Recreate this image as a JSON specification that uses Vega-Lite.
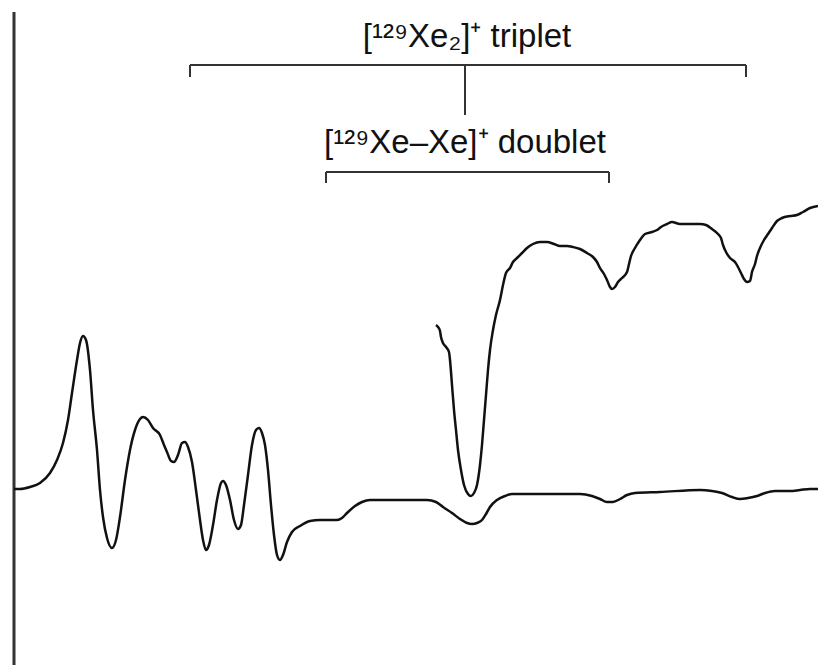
{
  "$schema": "https://vega.github.io/schema/vega-lite/v6.json",
  "width": 818,
  "height": 665,
  "padding": 0,
  "autosize": "none",
  "background": "white",
  "config": {"view": {"stroke": null}},
  "datasets": {
    "lower": [
      {"x":14,"s":176},{"x":20,"s":176},{"x":30,"s":178},{"x":40,"s":182},{"x":50,"s":192},{"x":57,"s":205},{"x":63,"s":222},{"x":68,"s":245},{"x":72,"s":272},{"x":77,"s":305},{"x":80,"s":322},{"x":83,"s":329},{"x":86,"s":325},{"x":90,"s":295},{"x":93,"s":255},{"x":97,"s":215},{"x":100,"s":175},{"x":103,"s":148},{"x":107,"s":127},{"x":112,"s":117},{"x":116,"s":125},{"x":120,"s":148},{"x":125,"s":185},{"x":130,"s":215},{"x":135,"s":235},{"x":140,"s":246},{"x":143,"s":248},{"x":148,"s":245},{"x":153,"s":237},{"x":160,"s":230},{"x":164,"s":220},{"x":167,"s":213},{"x":171,"s":204},{"x":174,"s":203},{"x":178,"s":210},{"x":182,"s":222},{"x":185,"s":223},{"x":188,"s":218},{"x":192,"s":203},{"x":196,"s":175},{"x":200,"s":145},{"x":203,"s":125},{"x":206,"s":115},{"x":209,"s":120},{"x":213,"s":140},{"x":217,"s":165},{"x":221,"s":182},{"x":223,"s":184},{"x":226,"s":180},{"x":230,"s":165},{"x":234,"s":145},{"x":238,"s":136},{"x":241,"s":140},{"x":244,"s":160},{"x":248,"s":190},{"x":252,"s":220},{"x":256,"s":235},{"x":259,"s":237},{"x":262,"s":232},{"x":265,"s":220},{"x":268,"s":195},{"x":271,"s":160},{"x":274,"s":130},{"x":277,"s":110},{"x":280,"s":105},{"x":283,"s":110},{"x":287,"s":123},{"x":292,"s":133},{"x":300,"s":139},{"x":310,"s":144},{"x":320,"s":145},{"x":337,"s":145},{"x":342,"s":147},{"x":347,"s":152},{"x":355,"s":159},{"x":362,"s":163},{"x":370,"s":165},{"x":400,"s":165},{"x":427,"s":165},{"x":436,"s":163},{"x":443,"s":158},{"x":452,"s":152},{"x":460,"s":146},{"x":467,"s":142},{"x":472,"s":141},{"x":477,"s":142},{"x":482,"s":145},{"x":486,"s":151},{"x":490,"s":158},{"x":497,"s":165},{"x":505,"s":169},{"x":512,"s":171},{"x":540,"s":171},{"x":580,"s":171},{"x":592,"s":169},{"x":600,"s":166},{"x":607,"s":163},{"x":613,"s":163},{"x":620,"s":166},{"x":627,"s":170},{"x":635,"s":172},{"x":660,"s":173},{"x":700,"s":175},{"x":712,"s":174},{"x":722,"s":172},{"x":732,"s":168},{"x":740,"s":166},{"x":748,"s":167},{"x":757,"s":169},{"x":765,"s":172},{"x":775,"s":174},{"x":790,"s":174},{"x":800,"s":175},{"x":810,"s":176},{"x":818,"s":176}
    ],
    "upper": [
      {"x":436,"s":340},{"x":438,"s":338},{"x":440,"s":334},{"x":441,"s":328},{"x":443,"s":322},{"x":446,"s":318},{"x":449,"s":313},{"x":450,"s":305},{"x":452,"s":280},{"x":454,"s":255},{"x":456,"s":235},{"x":458,"s":215},{"x":461,"s":195},{"x":464,"s":180},{"x":468,"s":171},{"x":471,"s":169},{"x":474,"s":172},{"x":477,"s":180},{"x":480,"s":200},{"x":482,"s":220},{"x":484,"s":245},{"x":486,"s":270},{"x":488,"s":295},{"x":490,"s":315},{"x":493,"s":335},{"x":496,"s":350},{"x":500,"s":365},{"x":503,"s":380},{"x":506,"s":392},{"x":510,"s":397},{"x":513,"s":403},{"x":517,"s":407},{"x":522,"s":412},{"x":527,"s":417},{"x":533,"s":421},{"x":540,"s":423},{"x":547,"s":423},{"x":554,"s":421},{"x":560,"s":419},{"x":567,"s":419},{"x":573,"s":418},{"x":580,"s":416},{"x":587,"s":412},{"x":593,"s":408},{"x":597,"s":403},{"x":600,"s":397},{"x":604,"s":391},{"x":607,"s":385},{"x":610,"s":378},{"x":612,"s":376},{"x":615,"s":378},{"x":618,"s":383},{"x":622,"s":387},{"x":627,"s":393},{"x":629,"s":401},{"x":631,"s":409},{"x":635,"s":417},{"x":640,"s":425},{"x":645,"s":431},{"x":652,"s":433},{"x":657,"s":435},{"x":661,"s":438},{"x":667,"s":441},{"x":672,"s":443},{"x":680,"s":441},{"x":690,"s":441},{"x":700,"s":441},{"x":706,"s":440},{"x":712,"s":436},{"x":718,"s":431},{"x":721,"s":427},{"x":723,"s":420},{"x":726,"s":413},{"x":730,"s":407},{"x":735,"s":403},{"x":738,"s":398},{"x":741,"s":392},{"x":744,"s":386},{"x":747,"s":383},{"x":750,"s":384},{"x":752,"s":393},{"x":755,"s":401},{"x":757,"s":409},{"x":760,"s":417},{"x":764,"s":425},{"x":768,"s":431},{"x":772,"s":437},{"x":777,"s":444},{"x":782,"s":447},{"x":790,"s":449},{"x":797,"s":450},{"x":803,"s":453},{"x":810,"s":457},{"x":818,"s":459}
    ],
    "segments": [
      {"x":190,"x2":746,"s":600,"s2":600},
      {"x":190,"x2":190,"s":600,"s2":588},
      {"x":746,"x2":746,"s":600,"s2":588},
      {"x":465,"x2":465,"s":600,"s2":550},
      {"x":326,"x2":609,"s":493,"s2":493},
      {"x":326,"x2":326,"s":493,"s2":482},
      {"x":609,"x2":609,"s":493,"s2":482}
    ],
    "axisline": [{"x":14,"s":653,"s2":0}],
    "labels": [
      {"x":467,"s":618,"label":"[¹²⁹Xe₂]⁺ triplet"},
      {"x":465,"s":512,"label":"[¹²⁹Xe–Xe]⁺ doublet"}
    ]
  },
  "layer": [
    {
      "data": {"name": "axisline"},
      "mark": {"type": "rule", "color": "#333333", "strokeWidth": 3},
      "encoding": {
        "x": {"field": "x", "type": "quantitative", "scale": {"domain": [0, 818], "nice": false, "zero": false}, "axis": null},
        "y": {"field": "s", "type": "quantitative", "scale": {"domain": [0, 665], "nice": false, "zero": false}, "axis": null},
        "y2": {"field": "s2"}
      }
    },
    {
      "data": {"name": "segments"},
      "mark": {"type": "rule", "color": "#333333", "strokeWidth": 2},
      "encoding": {
        "x": {"field": "x", "type": "quantitative", "scale": {"domain": [0, 818], "nice": false, "zero": false}, "axis": null},
        "x2": {"field": "x2"},
        "y": {"field": "s", "type": "quantitative", "scale": {"domain": [0, 665], "nice": false, "zero": false}, "axis": null},
        "y2": {"field": "s2"}
      }
    },
    {
      "data": {"name": "lower"},
      "mark": {"type": "line", "color": "#111111", "strokeWidth": 2.5, "interpolate": "monotone"},
      "encoding": {
        "x": {"field": "x", "type": "quantitative", "scale": {"domain": [0, 818], "nice": false, "zero": false}, "axis": null},
        "y": {"field": "s", "type": "quantitative", "scale": {"domain": [0, 665], "nice": false, "zero": false}, "axis": null}
      }
    },
    {
      "data": {"name": "upper"},
      "mark": {"type": "line", "color": "#111111", "strokeWidth": 2.5, "interpolate": "monotone"},
      "encoding": {
        "x": {"field": "x", "type": "quantitative", "scale": {"domain": [0, 818], "nice": false, "zero": false}, "axis": null},
        "y": {"field": "s", "type": "quantitative", "scale": {"domain": [0, 665], "nice": false, "zero": false}, "axis": null}
      }
    },
    {
      "data": {"name": "labels"},
      "mark": {"type": "text", "font": "Liberation Sans", "fontSize": 33, "color": "#111111", "align": "center", "baseline": "alphabetic"},
      "encoding": {
        "x": {"field": "x", "type": "quantitative", "scale": {"domain": [0, 818], "nice": false, "zero": false}, "axis": null},
        "y": {"field": "s", "type": "quantitative", "scale": {"domain": [0, 665], "nice": false, "zero": false}, "axis": null},
        "text": {"field": "label"}
      }
    }
  ]
}
